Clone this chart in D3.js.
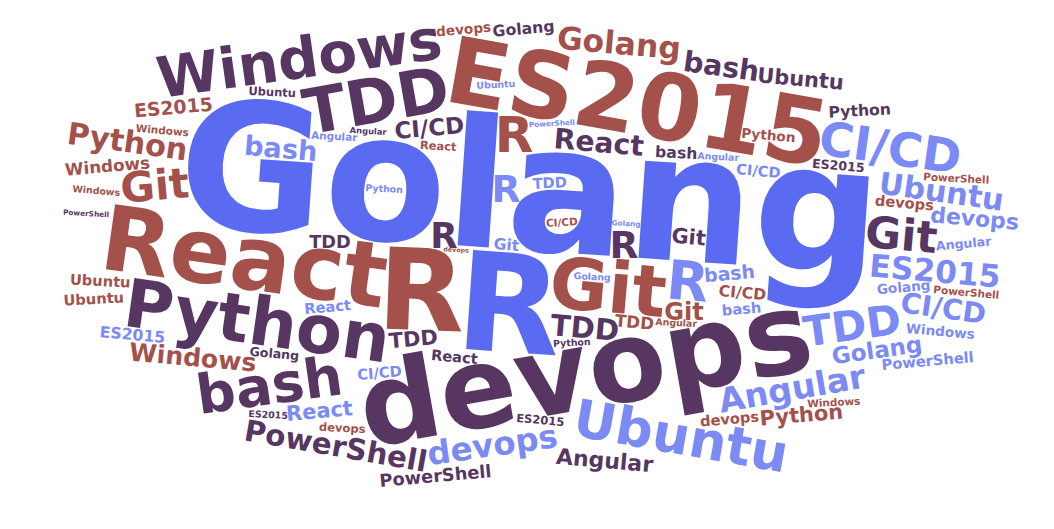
<!DOCTYPE html>
<html>
<head>
<meta charset="utf-8">
<script src="https://cdn.jsdelivr.net/npm/d3@7"></script>
<style>
html, body { margin: 0; padding: 0; background: #fff; overflow: hidden; }
</style>
</head>
<body>
<svg id="cloud"></svg>
<script>
//  Data  //
var words = ["Golang","R","devops","R","ES2015","React","Git","Python","TDD","Windows",
  "bash","Ubuntu","R","R","CI/CD","TDD","Git","Git","R","R",
  "R","Angular","ES2015","devops","PowerShell","Ubuntu","Golang","Python","bash","CI/CD",
  "React","TDD","bash","Windows","Git","CI/CD","React","Angular","Ubuntu","devops",
  "Python","TDD","Golang","Windows","PowerShell","ES2015","Git","bash","TDD","TDD",
  "React","Python","bash","Golang","Ubuntu","Ubuntu","bash","CI/CD","React","ES2015",
  "CI/CD","CI/CD","Git","devops","devops","devops","PowerShell","Golang","Python","TDD",
  "Golang","ES2015","Angular","Windows","ES2015","Ubuntu","React","devops","Windows","Windows",
  "Windows","Angular","PowerShell","PowerShell","Angular","Angular","Python","Python","Golang","CI/CD",
  "ES2015","Ubuntu","Angular","Golang","PowerShell","PowerShell","devops"];

var sizes = [170,130,108,108,88,86,68,64,60,54,
  52,50,52,48,45,40,42,40,36,36,
  34,32,30,31,28,29,30,29,27,27,
  27,28,26,24,23,22,20,21,20,21,
  20,20,22,16,17,18,20,18,17,16,
  14,15,15,15,14,14,14,15,14,15,
  14,14,15,14,14,13,14,12,13,14,
  13,12,12,13,11,11,11,11,10,10,
  9,10,10,10,9,9,9,9,9,10,
  9,9,8,7,7,7,6];

// 0 blue, 1 light blue, 2 purple, 3 brick
var colorIdx = [0,0,2,3,3,3,3,2,2,2,
  2,1,1,3,1,1,2,3,2,1,
  2,1,1,1,2,1,3,3,2,1,
  2,2,1,3,3,2,1,2,2,1,
  3,2,1,3,2,3,2,1,2,3,
  2,2,2,2,3,3,1,3,1,1,
  1,1,1,3,3,3,1,2,3,1,
  1,2,1,1,2,2,3,3,3,3,
  3,1,3,3,3,1,1,2,1,3,
  2,1,2,1,2,1,3];

var angles = [4,4,-10,2,10,8,5,8,-10,-8,
  -8,10,5,0,8,-8,5,-5,0,0,
  0,-10,5,-8,10,8,5,8,8,8,
  5,5,5,5,0,-5,-5,5,5,5,
  -5,-5,-8,-5,-5,-5,5,-5,0,5,
  5,-3,3,-5,3,-3,-5,5,-5,5,
  -5,5,5,-5,5,-5,-5,5,5,-3,
  -5,5,-5,5,5,3,3,3,5,-3,
  5,3,5,3,3,3,3,-3,3,-3,
  3,-3,3,3,3,-3,3];

var palette = ["#5a6bf2", "#7b8af5", "#573762", "#a4514b"];

var width = 1054, height = 529;
var cell = 2;
var gw = Math.ceil(width / cell), gh = Math.ceil(height / cell);
var fontFamily = '"DejaVu Sans", sans-serif';
var fontSize = d3.scaleLinear().domain([0, 170]).range([0, 178]);

//  Shape of the cloud  //
function inShape(x, y) {
    var left = x < 534, up = y < 250;
    var ex = Math.abs(x - 534) / 488;
    var ey = Math.abs(y - 250) / (up ? 232 : 256);
    var n = up ? (left ? 3.4 : 2.2) : (left ? 2.8 : 2.2);
    if (Math.pow(ex, n) + Math.pow(ey, n) > 1) return false;
    var top = 18 + 0.00039 * Math.pow(Math.max(0, x - 450), 2);
    return y >= top;
}

// occupancy grid, outside the shape counts as taken
var grid = new Uint8Array(gw * gh);
for (var gy = 0; gy < gh; gy++) {
    for (var gx = 0; gx < gw; gx++) {
        grid[gy * gw + gx] = inShape(gx * cell + 1, gy * cell + 1) ? 0 : 1;
    }
}

//  Sprite of one word  //
function sprite(text, size, angle) {
    var c = document.createElement("canvas");
    var ctx = c.getContext("2d");
    var font = "bold " + size + "px " + fontFamily;
    ctx.font = font;
    var w = ctx.measureText(text).width;
    var r = Math.ceil(Math.sqrt(w * w / 4 + size * size)) + 4;
    c.width = c.height = 2 * r;
    ctx.font = font;
    ctx.translate(r, r);
    ctx.rotate(angle * Math.PI / 180);
    ctx.textAlign = "center";
    ctx.fillStyle = "#000";
    ctx.fillText(text, 0, 0);
    var data = ctx.getImageData(0, 0, 2 * r, 2 * r).data;
    var seen = new Set(), cells = [];
    for (var py = 0; py < 2 * r; py++) {
        for (var px = 0; px < 2 * r; px++) {
            if (data[(py * 2 * r + px) * 4 + 3] > 30) {
                var dx = Math.floor((px - r) / cell), dy = Math.floor((py - r) / cell);
                var key = dx + "," + dy;
                if (!seen.has(key)) { seen.add(key); cells.push([dx, dy]); }
            }
        }
    }
    return cells;
}

function fits(cells, gx, gy) {
    for (var k = 0; k < cells.length; k++) {
        var x = gx + cells[k][0], y = gy + cells[k][1];
        if (x < 0 || y < 0 || x >= gw || y >= gh) return false;
        if (grid[y * gw + x]) return false;
    }
    return true;
}

//  Spiral layout, biggest first  //
var cx = 525, cy = 250, ratio = width / height;
var order = d3.range(words.length).sort(function(a, b){ return sizes[b] - sizes[a] || a - b; });
var placed = [];
order.forEach(function(i, k) {
    var size = fontSize(sizes[i]);
    var cells = sprite(words[i], size, angles[i]);
    var dir = k % 2 ? 1 : -1;
    var last = "";
    for (var t = 0; t < 7000; t++) {
        var s = t * 0.1;
        var x = cx + ratio * s * Math.cos(s * dir);
        var y = cy + s * Math.sin(s * dir);
        var gx = Math.round(x / cell), gy = Math.round(y / cell);
        var key = gx + "," + gy;
        if (key === last) continue;
        last = key;
        if (fits(cells, gx, gy)) {
            cells.forEach(function(c){ grid[(gy + c[1]) * gw + gx + c[0]] = 1; });
            placed.push({text: words[i], size: size, color: palette[colorIdx[i]],
                         angle: angles[i], x: gx * cell, y: gy * cell});
            break;
        }
    }
});

//  Draw  //
var svg = d3.select("#cloud").attr("width", width).attr("height", height);
svg.selectAll("text").data(placed).join("text")
    .attr("transform", function(d){ return "translate(" + d.x + "," + d.y + ") rotate(" + d.angle + ")"; })
    .attr("text-anchor", "middle")
    .style("font-family", fontFamily)
    .style("font-weight", "bold")
    .style("font-size", function(d){ return d.size + "px"; })
    .attr("fill", function(d){ return d.color; })
    .text(function(d){ return d.text; });
</script>
</body>
</html>
